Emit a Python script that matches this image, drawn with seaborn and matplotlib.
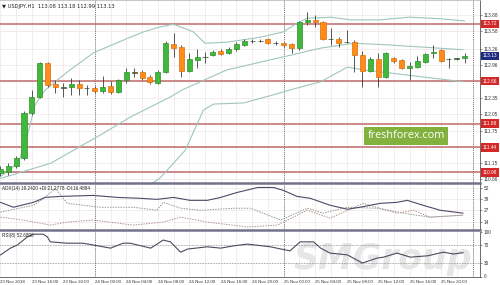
import numpy as np
import matplotlib
matplotlib.use("Agg")
import matplotlib.pyplot as plt
import matplotlib.transforms as mtransforms
import seaborn as sns

# ---------------- data ----------------
header = "\u25bc USDJPY,H1  113.08 113.18 112.99 113.13"
adx_label = "ADX(14) 19.2420 +DI:21.2778 -DI:16.4884"
rsi_label = "RSI(8) 52.6800"

date_labels = ["23 Nov 2018", "23 Nov 16:00", "23 Nov 20:00", "24 Nov 00:00", "24 Nov 04:00",
               "24 Nov 08:00", "24 Nov 12:00", "24 Nov 16:00", "24 Nov 20:00", "25 Nov 00:00",
               "25 Nov 04:00", "25 Nov 08:00", "25 Nov 12:00", "25 Nov 16:00", "25 Nov 20:00"]
date_bars = [0, 4, 8, 12, 16, 20, 24, 28, 32, 36, 40, 44, 48, 52, 56]
day_separators = [12, 36, 60]

opens = [110.97, 110.99, 111.10, 111.25, 112.08, 112.37, 113.00, 112.61, 112.55, 112.55,
         112.61, 112.54, 112.54, 112.48, 112.57, 112.46, 112.68, 112.83, 112.83, 112.74,
         112.63, 112.83, 113.35, 113.29, 112.85, 113.05, 113.11, 113.14, 113.22, 113.18,
         113.25, 113.33, 113.40, 113.40, 113.44, 113.36, 113.36, 113.35, 113.27, 113.75,
         113.78, 113.75, 113.44, 113.44, 113.38, 113.38, 113.14, 112.85, 113.07, 112.74,
         113.09, 113.05, 112.90, 112.92, 113.01, 113.18, 113.24, 113.07, 113.07, 113.08]
highs = [111.10, 111.15, 111.28, 112.11, 112.50, 113.01, 113.01, 112.68, 112.63, 112.72,
         112.68, 112.59, 112.57, 112.76, 112.66, 112.70, 112.90, 112.90, 112.87, 112.77,
         112.87, 113.40, 113.55, 113.33, 113.18, 113.25, 113.20, 113.24, 113.25, 113.29,
         113.38, 113.44, 113.44, 113.43, 113.46, 113.40, 113.38, 113.36, 113.77, 113.94,
         113.88, 113.77, 113.64, 113.47, 113.60, 113.42, 113.22, 113.11, 113.18, 113.20,
         113.11, 113.07, 113.01, 113.12, 113.18, 113.33, 113.25, 113.09, 113.09, 113.18]
lows = [110.91, 110.93, 111.06, 111.21, 112.04, 112.35, 112.55, 112.44, 112.37, 112.41,
        112.41, 112.41, 112.44, 112.44, 112.42, 112.44, 112.63, 112.74, 112.68, 112.61,
        112.61, 112.81, 113.11, 112.74, 112.83, 112.90, 113.00, 113.12, 113.14, 113.16,
        113.22, 113.31, 113.36, 113.38, 113.35, 113.33, 113.29, 113.18, 113.24, 113.70,
        113.66, 113.42, 113.33, 113.29, 113.36, 112.83, 112.55, 112.83, 112.55, 112.72,
        113.00, 112.89, 112.68, 112.90, 113.00, 113.09, 113.01, 112.90, 113.05, 112.99]
closes = [111.04, 111.10, 111.25, 112.08, 112.37, 113.00, 112.59, 112.55, 112.54, 112.61,
          112.54, 112.53, 112.48, 112.55, 112.46, 112.68, 112.83, 112.82, 112.72, 112.65,
          112.83, 113.36, 113.27, 112.85, 113.07, 113.11, 113.10, 113.20, 113.16, 113.25,
          113.35, 113.40, 113.41, 113.41, 113.36, 113.37, 113.33, 113.27, 113.75, 113.79,
          113.76, 113.44, 113.44, 113.36, 113.38, 113.14, 112.85, 113.07, 112.74, 113.18,
          113.03, 112.90, 112.94, 113.03, 113.16, 113.20, 113.03, 113.07, 113.08, 113.13]

upper_x = [0, 1.3, 2.5, 3.6, 4.4, 5.7, 8.5, 11.8, 15, 18.2, 20.3, 22, 24.5, 26, 28.8, 33,
           36, 37.7, 39, 42, 44.5, 48.3, 52, 56, 59]
upper_v = [110.91, 111.03, 111.25, 111.76, 112.22, 112.50, 112.83, 113.18, 113.38, 113.57,
           113.66, 113.71, 113.57, 113.36, 113.38, 113.47, 113.57, 113.73, 113.82, 113.84,
           113.79, 113.79, 113.84, 113.81, 113.77]
middle_x = [0, 6.4, 12.7, 16.5, 21.6, 23.1, 28.8, 36, 40.7, 44.9, 49.2, 58.8]
middle_v = [110.87, 111.15, 111.67, 112.00, 112.37, 112.50, 112.87, 113.11, 113.27, 113.36,
            113.33, 113.24]
lower_x = [18.5, 20.3, 23.5, 25.8, 27.1, 30.9, 34.7, 36.8, 40.7, 44.1, 46.1, 50.8, 58.8]
lower_v = [110.70, 110.88, 111.39, 112.13, 112.24, 112.26, 112.41, 112.50, 112.65, 112.92,
           112.87, 112.79, 112.65]

levels = [113.72, 112.66, 111.88, 111.44, 110.98]
current_price = 113.13
price_ticks = [113.88, 113.58, 113.26, 112.96, 112.35, 112.05, 111.75, 111.15, 110.86]
grid_levels = [113.88, 113.58, 113.26, 112.96, 112.66, 112.35, 112.05, 111.75, 111.45, 111.15, 110.86]

adx_x = [0, 1.65, 4.2, 5.7, 7.6, 11.8, 14.9, 17.8, 19.9, 22, 24.1, 26.3, 28, 30.1, 32.7, 34.7,
         36, 37.7, 39.4, 41.9, 44.1, 45.7, 48.3, 50.4, 51.7, 53.7, 55.9, 58.8]
adx_v = [35.7, 30.3, 35.7, 41.1, 42.2, 43.3, 41.1, 40.1, 39.0, 41.1, 37.9, 37.9, 41.1, 46.6,
         52.0, 52.0, 48.7, 42.2, 40.1, 32.5, 28.1, 30.3, 34.6, 35.7, 37.9, 32.5, 27.0, 23.8]
pdi_x = [0, 4.2, 5.5, 7, 8.5, 12.7, 16.9, 19.9, 20.7, 22.9, 25.4, 29.6, 31.8, 35.6, 39, 41,
         44.1, 47.9, 51.2, 54.6, 58.8]
pdi_v = [24.9, 32.5, 40.1, 50.9, 34.6, 30.3, 30.3, 27.0, 35.7, 29.2, 27.0, 29.2, 29.2, 16.2,
         29.2, 23.8, 30.3, 29.2, 23.8, 19.4, 21.6]
mdi_x = [0, 2.9, 6.35, 8.5, 11.8, 16.9, 20.7, 22.9, 26.3, 31.4, 35.2, 39, 41.9, 46.1, 50.4,
         52.5, 54.6, 58.8]
mdi_v = [19.4, 16.2, 10.7, 14.0, 16.2, 10.7, 14.0, 19.4, 14.0, 8.6, 10.7, 27.0, 18.3, 34.6,
         23.8, 27.0, 19.4, 21.6]
adx_ticks = [52, 39, 27, 14]

rsi_x = [0, 1.27, 2.16, 3.43, 4.19, 5.46, 5.97, 6.35, 8.5, 10.5, 11.8, 14, 15.6, 16.5, 19.1,
         20.7, 21.6, 22.9, 23.8, 26.3, 28, 29.6, 31.4, 34.3, 36.8, 38.1, 39.8, 40.7, 41.9,
         44.1, 46, 47.9, 48.7, 50.4, 52.1, 54.3, 56.3, 57.6, 58.8]
rsi_v = [47.8, 63, 70, 88, 94, 94, 88, 77, 74, 74, 70, 63, 74, 74, 63, 81, 77, 54, 61, 66, 63,
         68, 72, 66, 57, 77, 77, 63, 52, 48, 30, 41, 43, 52, 43, 46, 54, 50, 53]
rsi_ticks = [100, 70, 30, 0]
rsi_levels = [70, 30]

# ---------------- style ----------------
sns.set_style("white")
plt.rcParams["font.family"] = ["Liberation Sans", "DejaVu Sans"]

GREEN = "#3fb83c"
GREEN_EDGE = "#2d8f2b"
ORANGE = "#ff8c1a"
ORANGE_EDGE = "#d9700c"
WICK = "#3c3c3c"
BAND = "#9fc6bb"
LEVEL = "#c06a6a"
GRID = "#efe6e6"
SEP = "#72728a"
TXT = "#333333"
FS = 3.4
FSX = 3.2

fig = plt.figure(figsize=(5.0, 2.85), dpi=100)
fig.patch.set_facecolor("white")

H = 285.0
XL = (-0.05, 60.95)
W = 480 / 500.0


def panel(top_px, bot_px):
    return fig.add_axes([0, 1 - bot_px / H, W, (bot_px - top_px) / H])


ax = panel(0, 183)
ax_adx = panel(184.5, 229.5)
ax_rsi = panel(231.5, 276.5)

for a in (ax, ax_adx, ax_rsi):
    a.set_xlim(*XL)
    a.set_facecolor("white")
    for s in ("left", "top"):
        a.spines[s].set_visible(False)
    a.spines["right"].set_color("#555555")
    a.spines["right"].set_linewidth(0.6)
    a.spines["bottom"].set_color(SEP)
    a.spines["bottom"].set_linewidth(1.8)
    a.yaxis.tick_right()
    a.tick_params(axis="y", labelsize=FS, length=1.5, width=0.4, pad=1.2, colors=TXT)
    for xv in range(0, 61, 2):
        a.axvline(xv, color=GRID, lw=0.5, zorder=0)
    for xv in day_separators:
        a.axvline(xv, color="#555555", lw=0.6, ls=(0, (1, 1.3)), zorder=1)

ax.spines["top"].set_visible(True)
ax.spines["top"].set_color("#bbbbbb")
ax.spines["top"].set_linewidth(0.6)

# ---------------- main price panel ----------------
ax.set_ylim(110.786, 114.156)
for g in grid_levels:
    ax.axhline(g, color=GRID, lw=0.5, zorder=0)
for lv in levels:
    ax.axhline(lv, color=LEVEL, lw=1.1, zorder=1)

sns.lineplot(x=upper_x, y=upper_v, ax=ax, color=BAND, lw=0.8, zorder=2)
sns.lineplot(x=middle_x, y=middle_v, ax=ax, color=BAND, lw=0.8, zorder=2)
sns.lineplot(x=lower_x, y=lower_v, ax=ax, color=BAND, lw=0.8, zorder=2)

o = np.array(opens); c = np.array(closes); h = np.array(highs); lo = np.array(lows)
xb = np.arange(len(o))
up = c >= o
ax.vlines(xb, lo, h, color=WICK, lw=0.6, zorder=3)
body_bot = np.minimum(o, c)
body_h = np.maximum(np.abs(c - o), 0.004)
fc = np.where(up, GREEN, ORANGE)
ec = np.where(up, GREEN_EDGE, ORANGE_EDGE)
doji = np.abs(c - o) < 0.015
ec = np.where(doji, "#2f4a2f", ec)
ax.bar(xb, body_h, bottom=body_bot, width=0.64, color=fc, edgecolor=ec, linewidth=0.5, zorder=4)

ax.set_yticks(price_ticks)
ax.set_yticklabels([f"{v:.2f}" for v in price_ticks])
ax.set_xticks([])
ax.set_xlabel(""); ax.set_ylabel("")

trans = mtransforms.blended_transform_factory(ax.transAxes, ax.transData)
for lv in levels:
    ax.text(1.006, lv, f"{lv:.2f}", transform=trans, fontsize=FS, color="white", va="center",
            ha="left", bbox=dict(boxstyle="square,pad=0.35", facecolor="#d42828", edgecolor="none"))
ax.text(1.006, current_price, f"{current_price:.2f}", transform=trans, fontsize=FS, color="white",
        va="center", ha="left",
        bbox=dict(boxstyle="square,pad=0.35", facecolor="#1c2a80", edgecolor="none"))

ax.text(0.004, 0.967, header, transform=ax.transAxes, fontsize=3.7, color="#222222",
        va="center", ha="left", family=["DejaVu Sans"])

# freshforex badge
ax.text(406 / 480, 1 - 136 / 183, "freshforex.com", transform=ax.transAxes, fontsize=7.8,
        color="white", ha="center", va="center", zorder=6, family=["Open Sans", "DejaVu Sans"],
        bbox=dict(boxstyle="square,pad=0.3", facecolor="#82b13d", edgecolor="none"))

# ---------------- ADX panel ----------------
ax_adx.set_ylim(5.85, 55.3)
for g in adx_ticks:
    ax_adx.axhline(g, color=GRID, lw=0.5, zorder=0)
sns.lineplot(x=pdi_x, y=pdi_v, ax=ax_adx, color="#8d9a8d", lw=0.7, linestyle=(0, (1.5, 1.2)), zorder=2)
sns.lineplot(x=mdi_x, y=mdi_v, ax=ax_adx, color="#b39393", lw=0.7, linestyle=(0, (1.5, 1.2)), zorder=2)
sns.lineplot(x=adx_x, y=adx_v, ax=ax_adx, color="#4b4b68", lw=0.8, zorder=3)
ax_adx.set_yticks(adx_ticks)
ax_adx.set_yticklabels([str(v) for v in adx_ticks])
ax_adx.set_xticks([])
ax_adx.set_xlabel(""); ax_adx.set_ylabel("")
ax_adx.text(0.005, 0.92, adx_label, transform=ax_adx.transAxes, fontsize=3.3, color="#222222",
            va="center", ha="left", zorder=5)

# ---------------- RSI panel ----------------
ax_rsi.set_ylim(0, 100)
ax_rsi.text(383 / 480, 0.40, "SMGroup", transform=ax_rsi.transAxes, fontsize=25, color="#e6e6e6",
            style="italic", weight="bold", ha="center", va="center", zorder=0.5, clip_on=False,
            family=["DejaVu Sans"])
for g in rsi_levels:
    ax_rsi.axhline(g, color="#666666", lw=0.5, ls=(0, (1, 1.3)), zorder=1)
sns.lineplot(x=rsi_x, y=rsi_v, ax=ax_rsi, color="#4b4b5e", lw=0.8, zorder=3)
ax_rsi.set_yticks(rsi_ticks)
ax_rsi.set_yticklabels([str(v) for v in rsi_ticks])
ax_rsi.set_xticks(date_bars)
ax_rsi.set_xticklabels(date_labels)
ax_rsi.tick_params(axis="x", labelsize=FSX, length=1.5, width=0.4, pad=0.8, colors=TXT)
for t in ax_rsi.get_xticklabels():
    t.set_ha("left")
ax_rsi.spines["bottom"].set_color("#555555")
ax_rsi.spines["bottom"].set_linewidth(0.6)
ax_rsi.set_xlabel(""); ax_rsi.set_ylabel("")
ax_rsi.text(0.005, 0.9, rsi_label, transform=ax_rsi.transAxes, fontsize=3.3, color="#222222",
            va="center", ha="left", zorder=5)

fig.savefig("out.png", dpi=100, facecolor="white")
